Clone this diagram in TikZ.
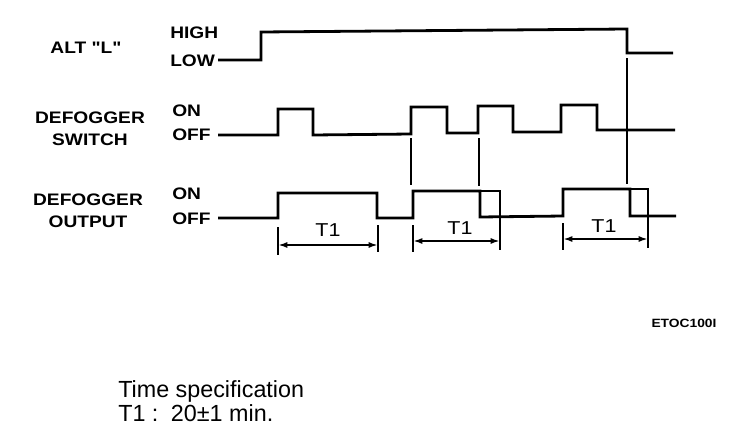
\documentclass[tikz,border=0pt]{standalone}
\usepackage{fontspec}
\setmainfont{Liberation Sans}
\newfontfamily\lblfont[FakeStretch=1.15]{Liberation Sans}
\usetikzlibrary{arrows.meta}
\tikzset{
  lbl/.style={font=\lblfont\bfseries\fontsize{12.5}{14}\selectfont, inner sep=0pt},
  lvl/.style={font=\lblfont\bfseries\fontsize{12.5}{14}\selectfont, inner sep=0pt, anchor=west},
  sig/.style={line width=2.1pt, line join=miter},
  link/.style={line width=1.6pt},
  dim/.style={line width=1.4pt},
  dimarrow/.style={line width=1.4pt, {Latex[length=7pt,width=4.5pt]}-{Latex[length=7pt,width=4.5pt]}},
  tlbl/.style={font=\lblfont\fontsize{14}{16}\selectfont, inner sep=0pt}
}
\begin{document}
\begin{tikzpicture}[x=0.75pt,y=-0.75pt]
\useasboundingbox (0,0) rectangle (752,446);
% labels
\node[lbl] (alt) at (86,48) {ALT "L"};
\node[lvl] (high) at (170,33) {HIGH};
\node[lvl] (low) at (170,61) {LOW};
\node[lbl] (sw1) at (90,118) {DEFOGGER};
\node[lbl] (sw2) at (90,140) {SWITCH};
\node[lvl] (son) at (172,111) {ON};
\node[lvl] (soff) at (172,135) {OFF};
\node[lbl] (out1) at (88,200) {DEFOGGER};
\node[lbl] (out2) at (88,222) {OUTPUT};
\node[lvl] (oon) at (172,194) {ON};
\node[lvl] (ooff) at (172,219) {OFF};
% ALT signal
\draw[sig] (218,60) -- (261,60) -- (261,32) -- (627,29) -- (627,53) -- (673,53);
% switch signal
\draw[sig] (218,135) -- (278,135) -- (278,109) -- (313,109) -- (313,135) -- (411,134)
  -- (411,107) -- (447,107) -- (447,133) -- (478,133) -- (478,106) -- (513,106)
  -- (513,132) -- (561,132) -- (561,105) -- (597,105) -- (597,130) -- (675,130);
% output signal
\draw[sig] (218,218) -- (278,218) -- (278,193) -- (377,193) -- (377,218) -- (413,218)
  -- (413,191) -- (480,191) -- (480,217) -- (563,216) -- (563,189) -- (630,189)
  -- (630,216) -- (676,216);
% timer overlays
\draw[sig] (480,191) -- (500,191) -- (500,250);
\draw[sig] (630,189) -- (648,189) -- (648,248);
% links between switch and output
\coordinate (l1a) at (411,138); \coordinate (l1b) at (411,185);
\coordinate (l2a) at (479,138); \coordinate (l2b) at (479,186);
\coordinate (l3a) at (627,58);  \coordinate (l3b) at (627,184);
\draw[link] (l1a) -- (l1b);
\draw[link] (l2a) -- (l2b);
\draw[link] (l3a) -- (l3b);
% dimension 1
\coordinate (d1a) at (278,245); \coordinate (d1b) at (378,245);
\draw[dim] (278,227) -- (278,255);
\draw[dim] (378,225) -- (378,252);
\draw[dimarrow] (d1a) -- (d1b);
\node[tlbl] (t1a) at (328,230) {T1};
% dimension 2
\coordinate (d2a) at (413,241); \coordinate (d2b) at (500,241);
\draw[dim] (413,225) -- (413,252);
\draw[dimarrow] (d2a) -- (d2b);
\node[tlbl] (t1b) at (460,228) {T1};
% dimension 3
\coordinate (d3a) at (563,239); \coordinate (d3b) at (648,239);
\draw[dim] (563,223) -- (563,250);
\draw[dimarrow] (d3a) -- (d3b);
\node[tlbl] (t1c) at (604,226) {T1};
% code
\node[font=\lblfont\bfseries\fontsize{9}{10}\selectfont, inner sep=0pt] (code) at (684,323) {ETOC100I};
% spec
\node[font=\fontsize{17.5}{24}\selectfont, inner sep=0pt, anchor=base west] (spec1) at (118,397) {Time specification};
\node[font=\fontsize{17.5}{24}\selectfont, inner sep=0pt, anchor=base west] (spec2) at (118,421) {T1 : \,20±1 min.};
\end{tikzpicture}
\end{document}
